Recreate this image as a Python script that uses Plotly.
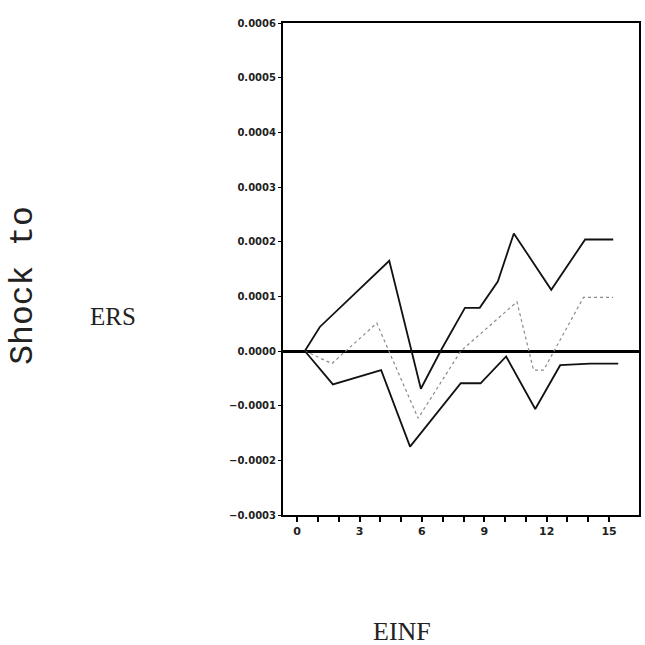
import plotly.graph_objects as go

# Impulse response: shock to ERS, response of EINF
upper_x = [0.37, 1.09, 4.43, 5.95, 6.97, 8.07, 8.78, 9.65, 10.42, 12.22, 13.85, 15.2]
upper_y = [0.0, 0.000044, 0.000165, -0.000069, 0.000005, 0.000079, 0.000079,
           0.000127, 0.000215, 0.000112, 0.000204, 0.000204]

middle_x = [0.37, 1.67, 3.83, 5.82, 7.87, 10.57, 11.37, 11.85, 13.77, 15.2]
middle_y = [0.0, -0.000023, 0.000051, -0.000123, 0.0, 0.00009, -0.000035,
            -0.000035, 0.000098, 0.000098]

lower_x = [0.37, 1.72, 4.04, 5.43, 7.87, 8.82, 10.05, 11.45, 12.65, 14.09, 15.44]
lower_y = [0.0, -0.000061, -0.000035, -0.000175, -0.000059, -0.000059,
           -0.00001, -0.000106, -0.000026, -0.000023, -0.000023]

x_ticks = list(range(0, 16))
x_ticktext = [str(v) if v % 3 == 0 else "" for v in x_ticks]
y_ticks = [-0.0003, -0.0002, -0.0001, 0.0, 0.0001, 0.0002, 0.0003, 0.0004, 0.0005, 0.0006]

fig = go.Figure()
fig.add_trace(go.Scatter(x=upper_x, y=upper_y, mode="lines",
                         line=dict(color="#111111", width=1.8), showlegend=False))
fig.add_trace(go.Scatter(x=middle_x, y=middle_y, mode="lines",
                         line=dict(color="#8a8a8a", width=1.2, dash="dot"), showlegend=False))
fig.add_trace(go.Scatter(x=lower_x, y=lower_y, mode="lines",
                         line=dict(color="#111111", width=1.8), showlegend=False))

fig.update_layout(
    width=645, height=645,
    margin=dict(l=283, r=4, t=23, b=130),
    paper_bgcolor="white", plot_bgcolor="white",
    xaxis=dict(range=[-0.68, 16.44], tickvals=x_ticks, ticktext=x_ticktext,
               ticks="outside", ticklen=5, tickwidth=1.5, tickcolor="black",
               showline=True, linecolor="black", linewidth=2, mirror=True,
               showgrid=False, zeroline=False,
               tickfont=dict(family="DejaVu Sans", size=11, color="#222222", weight="bold")),
    yaxis=dict(range=[-0.0003, 0.0006], tickvals=y_ticks, tickformat=".4f",
               ticks="outside", ticklen=3, tickcolor="black",
               showline=True, linecolor="black", linewidth=2, mirror=True,
               showgrid=False, zeroline=True, zerolinecolor="black", zerolinewidth=2.5,
               ticklabelstandoff=0,
               tickfont=dict(family="DejaVu Sans", size=10, color="#222222", weight="bold")),
    annotations=[
        dict(text="Shock to", xref="paper", yref="paper", x=-0.729, y=0.467,
             xanchor="center", yanchor="middle",
             showarrow=False, textangle=-90,
             font=dict(family="Liberation Mono", size=33, color="#222222")),
        dict(text="ERS", xref="paper", yref="paper", x=-0.478, y=0.404,
             xanchor="center", yanchor="middle",
             showarrow=False,
             font=dict(family="Liberation Serif", size=25, color="#222222")),
        dict(text="EINF", xref="paper", yref="paper", x=0.335, y=-0.236,
             xanchor="center", yanchor="middle",
             showarrow=False,
             font=dict(family="Liberation Serif", size=26, color="#222222")),
    ],
)

fig.write_html("out.html")
